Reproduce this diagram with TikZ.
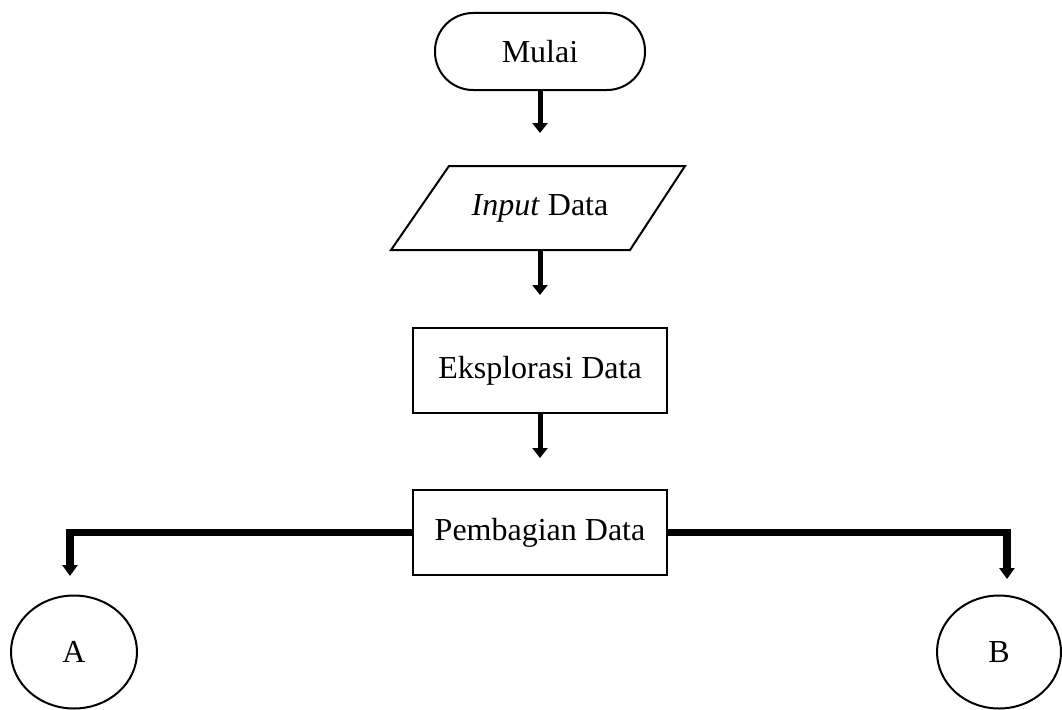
\documentclass[tikz,border=0pt]{standalone}
\usepackage{fontspec}
\setmainfont{Liberation Serif}
\usetikzlibrary{arrows.meta,shapes.geometric}
\begin{document}
\begin{tikzpicture}[x=1pt,y=-1pt,
  box/.style={draw, line width=2pt, inner sep=0pt, font=\fontsize{32}{38}\selectfont},
  conn/.style={draw, line width=5pt, -{Triangle[width=15pt,length=10pt]}},
  elbow/.style={draw, line width=7.5pt, -{Triangle[width=15pt,length=11pt]}},
  ell/.style={draw, ellipse, line width=2pt, inner sep=0pt, font=\fontsize{32}{38}\selectfont}]
\useasboundingbox (0,0) rectangle (1062,709);
\fill[white] (0,0) rectangle (1062,709);
% nodes
\node[box, rounded corners=38pt, minimum width=210pt, minimum height=77pt] (start) at (540,51.5) {Mulai};
\node[font=\fontsize{32}{38}\selectfont, inner sep=0pt, minimum width=178pt, minimum height=84pt] (inp) at (540,208) {\textit{Input} Data};
\draw[line width=2pt, line join=miter] (449,166) -- (685,166) -- (630,250) -- (391,250) -- cycle;
\node[box, minimum width=254pt, minimum height=85pt] (eks) at (540,370.5) {Eksplorasi Data};
\node[box, minimum width=254pt, minimum height=85pt] (bagi) at (540,532.5) {Pembagian Data};
\node[ell, minimum width=126pt, minimum height=113pt] (A) at (74,652) {A};
\node[ell, minimum width=124pt, minimum height=113pt] (B) at (999,652) {B};
% free ends
\coordinate (e1) at (540,133);
\coordinate (e2) at (540,295);
\coordinate (e3) at (540,458);
\coordinate (eA) at (70,576);
\coordinate (eB) at (1007,579);
% connectors
\draw[conn] (start.south) -- (e1);
\draw[conn] (inp.south) -- (e2);
\draw[conn] (eks.south) -- (e3);
\draw[elbow] (bagi.west) -| (eA);
\draw[elbow] (bagi.east) -| (eB);
\end{tikzpicture}
\end{document}
